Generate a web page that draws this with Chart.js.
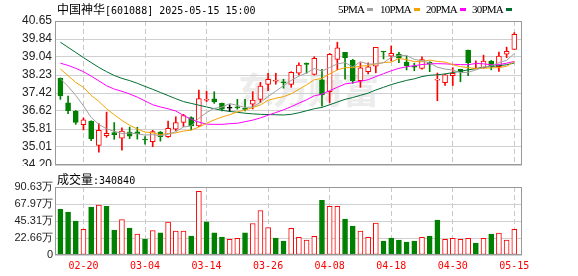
<!DOCTYPE html>
<html><head><meta charset="utf-8">
<script src="https://cdn.jsdelivr.net/npm/chart.js@4.4.1/dist/chart.umd.min.js"></script>
<style>
html,body{margin:0;padding:0;background:#fff;width:578px;height:276px;overflow:hidden;position:relative}
canvas{position:absolute;left:0}
#main{top:0;z-index:1}
#vol{top:166px;z-index:2;background:#fff}
.t{position:absolute;white-space:nowrap;z-index:3;color:#000}
.cjk{font:12px 'Noto Sans CJK SC';}
.mono{font:10px 'DejaVu Sans Mono';}
#wm{position:absolute;left:238px;top:62px;font:bold 36px 'Noto Sans CJK SC';color:#ececec;z-index:0;letter-spacing:-1px}
.lg{position:absolute;top:3px;font:11px 'Liberation Serif';letter-spacing:-0.8px;z-index:3;white-space:nowrap}
.sw{display:inline-block;width:6px;height:3px;margin-left:3px;vertical-align:middle;position:relative;top:-1px}
</style></head><body>
<div id="wm">东方财富</div>
<div class="t" id="title" style="left:57px;top:0px;line-height:15px"></div>
<div id="legend"></div>
<div class="t" id="volTitle" style="left:57px;top:170px;line-height:15px"></div>
<canvas id="main" width="578" height="176"></canvas>
<canvas id="vol" width="578" height="110"></canvas>
<script>
// ---------------- data ----------------
const stockName = '中国神华';
const stockCode = '601088';
const stamp = '2025-05-15 15:00';
const dates = ['02-17','02-18','02-19','02-20','02-21','02-24','02-25','02-26','02-27','02-28',
 '03-03','03-04','03-05','03-06','03-07','03-10','03-11','03-12','03-13','03-14',
 '03-17','03-18','03-19','03-20','03-21','03-24','03-25','03-26','03-27','03-28',
 '03-31','04-01','04-02','04-03','04-07','04-08','04-09','04-10','04-11','04-14',
 '04-15','04-16','04-17','04-18','04-21','04-22','04-23','04-24','04-25','04-28',
 '04-29','04-30','05-06','05-07','05-08','05-09','05-12','05-13','05-14','05-15'];
const open = [38.08,36.98,36.62,36.01,36.17,35.08,35.51,35.65,35.40,35.68,
 35.69,35.36,35.24,35.68,35.47,35.80,36.11,36.32,35.95,37.10,
 37.16,36.96,36.74,36.80,36.73,36.92,37.14,37.81,37.95,37.90,
 37.81,38.31,38.77,38.26,38.01,37.48,38.93,39.25,38.89,37.98,
 38.38,38.63,39.29,39.07,39.17,38.81,38.62,38.53,38.80,38.00,
 37.89,38.20,38.49,39.35,38.50,38.56,38.85,38.60,39.16,39.38];
const high = [38.10,37.29,36.64,36.31,36.18,36.05,36.57,36.10,35.87,35.90,
 35.89,35.47,35.75,35.70,36.17,36.36,36.47,36.36,37.56,37.51,
 37.48,36.97,36.90,37.14,37.14,37.48,37.90,38.31,38.31,38.04,
 38.38,38.78,38.77,39.05,38.49,39.20,39.70,39.25,38.93,38.78,
 38.78,39.47,39.29,39.53,39.25,39.08,38.76,39.04,38.83,38.32,
 38.27,38.56,38.49,39.35,38.87,39.12,38.88,39.26,39.48,40.13];
const low = [37.14,36.50,36.02,35.77,35.29,34.77,35.44,35.35,34.86,35.38,
 35.36,35.13,35.02,35.27,35.44,35.74,35.92,35.77,35.92,37.04,
 36.96,36.62,36.59,36.70,36.62,36.71,36.99,37.53,37.82,37.64,
 37.68,38.23,38.31,38.23,36.84,36.99,38.46,38.04,37.86,37.68,
 38.28,38.33,38.95,38.87,38.78,38.46,38.42,38.49,38.38,37.08,
 37.76,37.76,37.93,38.20,38.50,38.53,38.46,38.39,39.01,39.38];
const close = [37.29,36.63,36.11,36.22,35.38,35.75,35.62,35.56,35.72,35.49,
 35.59,35.32,35.70,35.47,35.84,36.10,36.41,35.95,37.17,37.13,
 37.02,36.70,36.74,36.76,36.69,37.11,37.73,38.04,37.97,37.88,
 38.35,38.67,38.71,38.98,37.34,39.16,39.45,39.01,37.98,38.55,
 38.60,39.47,39.26,39.20,38.98,38.65,38.58,38.92,38.72,38.02,
 38.24,38.31,38.38,38.78,38.54,38.86,38.63,39.08,39.29,40.05];
const prevClose = 38.00;
const volume = [610000,571000,451000,341000,637000,664000,650000,332000,473000,358000,
 279000,212000,327000,296000,438000,318000,318000,252000,849000,442000,
 296000,239000,208000,221000,296000,420000,593000,367000,226000,186000,
 354000,234000,199000,248000,730000,650000,650000,478000,385000,318000,
 234000,425000,186000,226000,199000,173000,186000,234000,252000,464000,
 208000,221000,208000,221000,159000,221000,279000,292000,199000,340840];
const ma5 = [38.06,37.72,37.32,36.85,36.33,36.02,35.82,35.71,35.61,35.63,
 35.60,35.54,35.56,35.51,35.58,35.69,35.90,35.95,36.29,36.55,
 36.74,36.79,36.95,36.87,36.78,36.80,37.00,37.27,37.51,37.75,
 37.99,38.18,38.32,38.52,38.41,38.57,38.73,38.79,38.59,38.83,
 38.72,38.73,38.78,39.02,39.10,39.11,38.93,38.87,38.77,38.58,
 38.50,38.45,38.34,38.35,38.46,38.58,38.64,38.78,38.89,39.19];
const ma10 = [38.50,38.20,37.90,37.68,37.32,37.05,36.72,36.45,36.20,35.98,
 35.81,35.68,35.64,35.56,35.61,35.64,35.72,35.76,35.90,36.07,
 36.22,36.35,36.45,36.58,36.66,36.77,36.89,37.10,37.19,37.26,
 37.39,37.59,37.79,38.02,38.08,38.28,38.46,38.56,38.56,38.63,
 38.65,38.73,38.79,38.81,38.97,38.92,38.83,38.83,38.90,38.84,
 38.81,38.69,38.61,38.56,38.52,38.54,38.55,38.56,38.62,38.83];
const ma20 = [38.76,38.66,38.53,38.38,38.18,37.97,37.75,37.60,37.50,37.38,
 37.24,37.07,36.90,36.80,36.72,36.62,36.42,36.25,36.12,36.03,
 36.02,36.02,36.05,36.07,36.14,36.21,36.31,36.43,36.55,36.67,
 36.81,36.97,37.12,37.30,37.37,37.53,37.68,37.83,37.88,37.95,
 38.02,38.16,38.29,38.42,38.53,38.60,38.65,38.70,38.73,38.74,
 38.73,38.71,38.70,38.69,38.75,38.73,38.69,38.70,38.76,38.84];
const ma30 = [39.70,39.47,39.24,39.01,38.79,38.57,38.38,38.21,38.08,37.98,
 37.86,37.72,37.59,37.45,37.31,37.17,37.04,36.96,36.88,36.80,
 36.72,36.65,36.60,36.56,36.52,36.49,36.47,36.46,36.45,36.44,
 36.47,36.54,36.63,36.72,36.78,36.90,37.02,37.14,37.22,37.32,
 37.42,37.56,37.68,37.80,37.90,37.99,38.06,38.16,38.22,38.24,
 38.28,38.34,38.40,38.46,38.52,38.58,38.61,38.65,38.69,38.77];
const maLabels = ['5PMA','10PMA','20PMA','30PMA'];
const priceTicks = [34.20,35.01,35.81,36.62,37.42,38.23,39.04,39.84,40.65];
const volumeTicks = [0,226575,453150,679725,906300];
const dateTickIndex = [3,11,19,27,35,43,51,59];
const volLabel = '成交量';

// ---------------- styles ----------------
const UP = '#ff0000', DOWN = '#008000', FLAT = '#000000';
const maColors = ['#a0a0a0','#f5a200','#ff00ff','#006e33'];
const legendLeft = [338, 380, 426, 472];

// ---------------- text ----------------
document.getElementById('title').innerHTML =
  '<span class="cjk">' + stockName + '</span><span class="mono">[' + stockCode + '] ' + stamp + '</span>';
document.getElementById('volTitle').innerHTML =
  '<span class="cjk">' + volLabel + '</span><span class="mono">:' + volume[volume.length-1] + '</span>';
document.getElementById('legend').innerHTML = maLabels.map((l, k) =>
  '<div class="lg" style="left:' + legendLeft[k] + 'px">' + l +
  '<span class="sw" style="background:' + maColors[k] + '"></span></div>').join('');

// ---------------- chart ----------------
const idx = dates.map((_, i) => i);
const candleCol = idx.map(i => close[i] > open[i] ? UP : (close[i] < open[i] ? DOWN : FLAT));
const bodyFill = idx.map(i => close[i] > open[i] ? '#ffffff' : candleCol[i]);
const volUp = idx.map(i => close[i] >= (i ? close[i-1] : prevClose));

const frame = {
  id: 'frame',
  afterDraw(chart) {
    const {ctx, chartArea: a} = chart;
    ctx.save();
    ctx.strokeStyle = '#999999';
    ctx.lineWidth = 1;
    ctx.strokeRect(Math.round(a.left) + 0.5, Math.round(a.top) + 0.5,
      Math.round(a.right - a.left) - 1, Math.round(a.bottom - a.top) - 1);
    ctx.restore();
  }
};

function xScale(showLabels, height) {
  return {
    type: 'linear', min: -0.7, max: 60, offset: false,
    afterBuildTicks: s => { s.ticks = dateTickIndex.map(v => ({ value: v })); },
    afterFit: s => { s.height = height; },
    grid: { color: '#c8c8c8', drawTicks: false, offset: false },
    border: { display: false, dash: [5, 3] },
    ticks: { display: showLabels, autoSkip: false, maxRotation: 0, padding: 5, color: '#ff0000',
      font: { family: 'DejaVu Sans Mono', size: 10 }, callback: v => dates[v] }
  };
}
const yTickFont = { family: 'Liberation Sans', size: 12 };

new Chart(document.getElementById('main'), {
  type: 'bar',
  data: {
    datasets: [
      { type: 'bar', order: 3, grouped: false, barThickness: 1, borderWidth: 0,
        backgroundColor: candleCol,
        data: idx.map(i => ({ x: i, y: [low[i], high[i]] })) },
      { type: 'bar', order: 2, grouped: false, barThickness: 5, borderWidth: 1, borderSkipped: false,
        minBarLength: 1, backgroundColor: bodyFill, borderColor: candleCol,
        data: idx.map(i => ({ x: i, y: [open[i], close[i]] })) },
      ...[ma5, ma10, ma20, ma30].map((m, k) => ({
        type: 'line', order: 1, borderColor: maColors[k], borderWidth: 1, pointRadius: 0,
        fill: false, tension: 0, data: idx.map(i => ({ x: i, y: m[i] }))
      }))
    ]
  },
  options: {
    responsive: false, animation: false, devicePixelRatio: 1, events: [],
    layout: { padding: { top: 21, right: 56, bottom: 0, left: 0 } },
    plugins: { legend: { display: false }, tooltip: { enabled: false } },
    scales: {
      x: xScale(false, 11),
      y: {
        type: 'linear', min: 34.20, max: 40.65,
        afterBuildTicks: s => { s.ticks = priceTicks.map(v => ({ value: v })); },
        afterFit: s => { s.width = 55; },
        ticks: { callback: v => v.toFixed(2), color: '#222', font: yTickFont, padding: 3 },
        grid: { color: '#d0d0d0', drawTicks: false },
        border: { display: false }
      }
    }
  },
  plugins: [frame]
});

new Chart(document.getElementById('vol'), {
  type: 'bar',
  data: {
    datasets: [{
      grouped: false, barThickness: 5, borderWidth: 1, borderSkipped: false,
      backgroundColor: idx.map(i => volUp[i] ? '#ffffff' : DOWN),
      borderColor: idx.map(i => volUp[i] ? UP : DOWN),
      data: idx.map(i => ({ x: i, y: volume[i] }))
    }]
  },
  options: {
    responsive: false, animation: false, devicePixelRatio: 1, events: [],
    layout: { padding: { top: 21, right: 56, bottom: 0, left: 0 } },
    plugins: { legend: { display: false }, tooltip: { enabled: false } },
    scales: {
      x: xScale(true, 21),
      y: {
        type: 'linear', min: 0, max: 906300,
        afterBuildTicks: s => { s.ticks = volumeTicks.map(v => ({ value: v })); },
        afterFit: s => { s.width = 55; },
        ticks: { callback: v => v === 0 ? '0' : (v / 10000).toFixed(2) + '万', color: '#222',
          font: { family: 'Liberation Sans', size: 11 }, padding: 2 },
        grid: { color: '#d0d0d0', drawTicks: false },
        border: { display: false }
      }
    }
  },
  plugins: [frame]
});
</script>
</body></html>
